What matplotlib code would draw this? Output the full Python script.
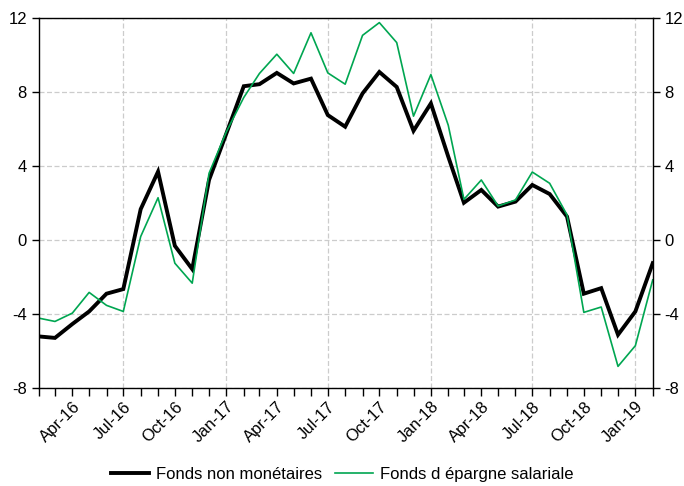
import numpy as np
import pandas as pd
import matplotlib
matplotlib.use("Agg")
from matplotlib import pyplot as plt
import matplotlib.dates as mdates

plt.rcParams['font.family'] = ['Liberation Sans', 'DejaVu Sans']

months = pd.date_range('2016-02-01', periods=37, freq='MS')

non_monetaires = [
    -5.22, -5.30, -4.55, -3.87, -2.91, -2.66, 1.66, 3.69, -0.32, -1.58,
    3.24, 5.76, 8.31, 8.42, 9.03, 8.46, 8.72, 6.75, 6.12, 7.92,
    9.08, 8.27, 5.90, 7.38, 4.50, 2.01, 2.70, 1.80, 2.07, 2.97,
    2.48, 1.26, -2.91, -2.61, -5.13, -3.87, -1.26,
]
epargne_salariale = [
    -4.23, -4.41, -3.96, -2.84, -3.54, -3.87, 0.18, 2.28, -1.26, -2.34,
    3.60, 5.85, 7.70, 9.00, 10.04, 9.00, 11.20, 9.03, 8.42, 11.06,
    11.75, 10.67, 6.69, 8.94, 6.20, 2.19, 3.24, 1.83, 2.16, 3.67,
    3.06, 1.35, -3.92, -3.63, -6.84, -5.72, -2.16,
]
yticks = [-8, -4, 0, 4, 8, 12]

fig = plt.figure(figsize=(6.84, 4.86), dpi=100)
ax = fig.add_axes([0.0566, 0.202, 0.8977, 0.761])

ax.plot(months, non_monetaires, color='black', lw=2.8, label='Fonds non monétaires',
        solid_joinstyle='miter')
ax.plot(months, epargne_salariale, color='#00a651', lw=1.2, label="Fonds d épargne salariale")

ax.set_xlim(months[0], months[-1])
ax.set_ylim(-8, 12)
ax.set_yticks(yticks)
ax.set_yticklabels([str(v) for v in yticks])

for v in yticks:
    ax.axhline(v, color='#cccccc', lw=0.9, ls=(0, (4, 2)), zorder=0)
for d in months:
    if d.month in (1, 7):
        ax.axvline(d, color='#cccccc', lw=0.9, ls=(0, (4, 2)), zorder=0)

ax.xaxis.set_major_locator(mdates.MonthLocator(bymonth=[1, 4, 7, 10]))
ax.xaxis.set_major_formatter(mdates.DateFormatter('%b-%y'))
ax.xaxis.set_minor_locator(mdates.MonthLocator())
ax.tick_params(axis='x', which='both', direction='out', length=6, width=1, labelsize=12,
               pad=2)
ax.tick_params(axis='y', direction='out', length=5, width=1, labelsize=12,
               right=True, labelright=True)
for lab in ax.get_xticklabels():
    lab.set_rotation(45)
    lab.set_ha('right')
    lab.set_rotation_mode('anchor')

for s in ax.spines.values():
    s.set_linewidth(1.0)

fig.legend(*ax.get_legend_handles_labels(), loc='center', bbox_to_anchor=(0.5, 0.024),
           bbox_transform=fig.transFigure, ncol=2, frameon=False, borderpad=0,
           fontsize=12, handlelength=2.3, columnspacing=0.8, handletextpad=0.4)

fig.savefig('out.png', dpi=100)
